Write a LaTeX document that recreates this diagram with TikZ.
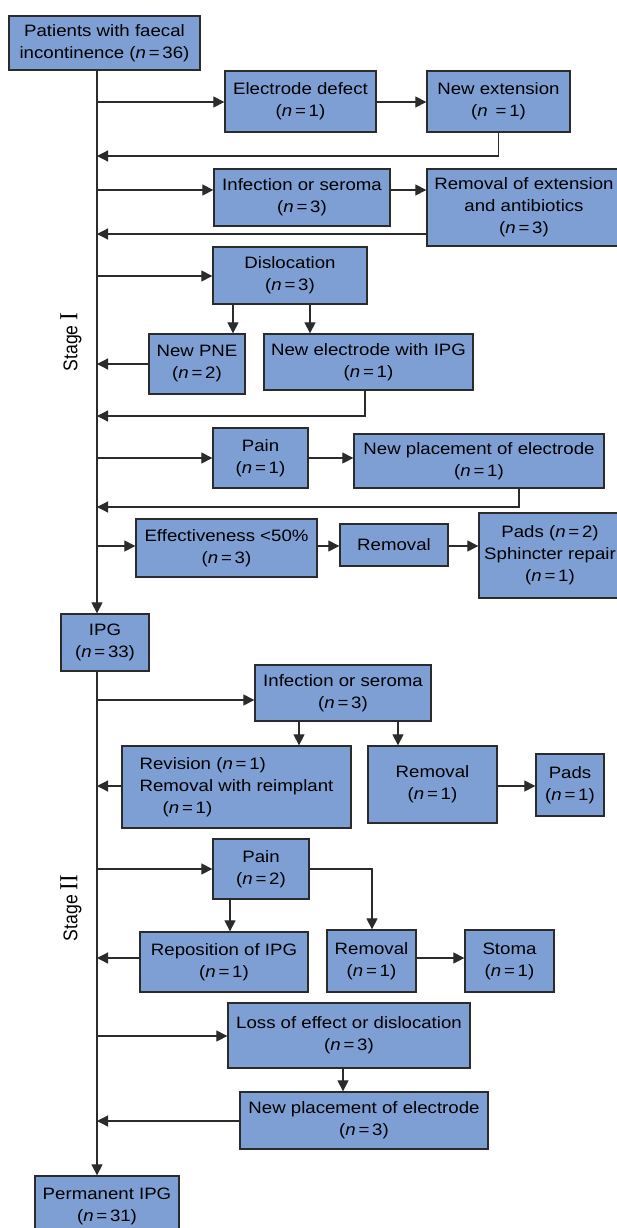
\documentclass[tikz,border=0pt]{standalone}
\usepackage{fontspec}
\setmainfont{Liberation Sans}[FakeStretch=1.13]
\newfontfamily\stagefont{Liberation Sans}
\newfontfamily\romfont{Liberation Serif}
\usetikzlibrary{arrows.meta}
\definecolor{boxfill}{RGB}{126,159,212}
\definecolor{edge}{HTML}{2B2B2B}
\newcommand{\nn}[1]{(\textit{n}\,=\,#1)}
\newcommand{\stagelbl}[1]{\scalebox{1}[1.13]{\stagefont\fontsize{17.6}{20}\selectfont Stage {\romfont\fontsize{23}{24}\selectfont #1}}}

\begin{document}
\begin{tikzpicture}[x=1pt,y=-1pt,font=\fontsize{16.5}{22}\selectfont,
  blk/.style={draw=edge,line width=1.3pt,fill=boxfill,align=center,inner sep=2pt},
  arr/.style={draw=edge,line width=1.2pt,-{Triangle[length=11pt,width=11pt]}}]
\useasboundingbox (0,0) rectangle (616,1228);
% stage I
\node[blk,minimum width=191pt,minimum height=54pt] (start) at (104.5,43) {Patients with faecal\\incontinence \nn{36}};
\node[blk,minimum width=151pt,minimum height=61pt] (edef) at (300.5,101.5) {Electrode defect\\\nn{1}};
\node[blk,minimum width=143pt,minimum height=61pt] (next) at (498.5,101.5) {New extension\\(\textit{n}\ \,=\,1)};
\node[blk,minimum width=176pt,minimum height=57pt] (inf1) at (302,197.5) {Infection or seroma\\\nn{3}};
\node[blk,minimum width=194pt,minimum height=77pt] (rmext) at (524,207.5) {Removal of extension\\and antibiotics\\\nn{3}};
\node[blk,minimum width=154pt,minimum height=57pt] (disl) at (290,275.5) {Dislocation\\\nn{3}};
\node[blk,minimum width=96pt,minimum height=60pt] (pne) at (197,364) {New PNE\\\nn{2}};
\node[blk,minimum width=209pt,minimum height=56pt] (nelec) at (368.5,362) {New electrode with IPG\\\nn{1}};
\node[blk,minimum width=95pt,minimum height=60pt] (pain1) at (260.5,458) {Pain\\\nn{1}};
\node[blk,minimum width=250pt,minimum height=54pt] (nplc1) at (479,461) {New placement of electrode\\\nn{1}};
\node[blk,minimum width=181pt,minimum height=58pt] (eff) at (226.5,548) {Effectiveness {<}50\%\\\nn{3}};
\node[blk,minimum width=108pt,minimum height=42pt] (rmv1) at (394,545) {Removal};
\node[blk,minimum width=142pt,minimum height=85pt] (pads1) at (550,555.5) {Pads \nn{2}\\Sphincter repair\\\nn{1}};
\node[blk,minimum width=88pt,minimum height=57pt] (ipg) at (105,642.5) {IPG\\\nn{33}};
% stage II
\node[blk,minimum width=176pt,minimum height=56pt] (inf2) at (343,693) {Infection or seroma\\\nn{3}};
\node[blk,minimum width=229pt,minimum height=82pt,align=left] (rev) at (236.5,787) {Revision \nn{1}\\Removal with reimplant\\\hspace*{1.4em}\nn{1}};
\node[blk,minimum width=129pt,minimum height=77pt] (rmv2) at (432.5,784.5) {Removal\\\nn{1}};
\node[blk,minimum width=68pt,minimum height=62pt] (pads2) at (570,785) {Pads\\\nn{1}};
\node[blk,minimum width=96pt,minimum height=60pt] (pain2) at (261,869) {Pain\\\nn{2}};
\node[blk,minimum width=168pt,minimum height=60pt] (repos) at (224,962) {Reposition of IPG\\\nn{1}};
\node[blk,minimum width=89pt,minimum height=62pt] (rmv3) at (371.5,961) {Removal\\\nn{1}};
\node[blk,minimum width=89pt,minimum height=62pt] (stoma) at (509.5,961) {Stoma\\\nn{1}};
\node[blk,minimum width=242pt,minimum height=65pt] (loss) at (349,1035.5) {Loss of effect or dislocation\\\nn{3}};
\node[blk,minimum width=248pt,minimum height=57pt] (nplc2) at (364,1120.5) {New placement of electrode\\\nn{3}};
\node[blk,minimum width=144pt,minimum height=60pt] (perm) at (107,1206) {Permanent IPG\\\nn{31}};
\node[rotate=90,inner sep=0pt] (st1) at (71,342) {\stagelbl{I}};
\node[rotate=90,inner sep=0pt] (st2) at (71,908) {\stagelbl{II}};
% rows on the spine
\coordinate (a1) at (97,102);
\coordinate (b1) at (97,156);
\coordinate (a2) at (97,190);
\coordinate (b2) at (97,234);
\coordinate (a3) at (97,276);
\coordinate (b3) at (97,364);
\coordinate (b4) at (97,416);
\coordinate (a5) at (97,458);
\coordinate (b5) at (97,507);
\coordinate (a6) at (97,546);
\coordinate (c1) at (97,700);
\coordinate (d1) at (97,786);
\coordinate (c2) at (97,869);
\coordinate (d2) at (97,958);
\coordinate (c3) at (97,1036);
\coordinate (d3) at (97,1121);
\draw[arr] (start.south -| a1) -- (ipg.north -| a1);
\draw[arr] (a1) -- (a1 -| edef.west);
\draw[arr] (a1 -| edef.east) -- (a1 -| next.west);
\draw[arr] (next.south) |- (b1);
\draw[arr] (a2) -- (a2 -| inf1.west);
\draw[arr] (a2 -| inf1.east) -- (a2 -| rmext.west);
\draw[arr] (b2 -| rmext.west) -- (b2);
\draw[arr] (a3) -- (a3 -| disl.west);
\draw[arr] ([xshift=-57pt]disl.south) -- ([xshift=36pt]pne.north);
\draw[arr] ([xshift=20pt]disl.south) -- ([xshift=-58.5pt]nelec.north);
\draw[arr] (pne.west) -- (b3);
\draw[arr] ([xshift=-3.5pt]nelec.south) |- (b4);
\draw[arr] (a5) -- (a5 -| pain1.west);
\draw[arr] (a5 -| pain1.east) -- (a5 -| nplc1.west);
\draw[arr] ([xshift=40pt]nplc1.south) |- (b5);
\draw[arr] (a6) -- (a6 -| eff.west);
\draw[arr] (a6 -| eff.east) -- (a6 -| rmv1.west);
\draw[arr] (a6 -| rmv1.east) -- (a6 -| pads1.west);
\draw[arr] (ipg.south -| a1) -- (perm.north -| a1);
\draw[arr] (c1) -- (c1 -| inf2.west);
\draw[arr] ([xshift=-44pt]inf2.south) -- ([xshift=62.5pt]rev.north);
\draw[arr] ([xshift=55pt]inf2.south) -- ([xshift=-34.5pt]rmv2.north);
\draw[arr] (d1 -| rev.west) -- (d1);
\draw[arr] (d1 -| rmv2.east) -- (d1 -| pads2.west);
\draw[arr] (c2) -- (c2 -| pain2.west);
\draw[arr] ([xshift=-31pt]pain2.south) -- ([xshift=6pt]repos.north);
\draw[arr] (c2 -| pain2.east) -| ([xshift=0.5pt]rmv3.north);
\draw[arr] (d2 -| repos.west) -- (d2);
\draw[arr] (d2 -| rmv3.east) -- (d2 -| stoma.west);
\draw[arr] (c3) -- (c3 -| loss.west);
\draw[arr] ([xshift=-6pt]loss.south) -- ([xshift=-21pt]nplc2.north);
\draw[arr] (d3 -| nplc2.west) -- (d3);
\end{tikzpicture}
\end{document}
